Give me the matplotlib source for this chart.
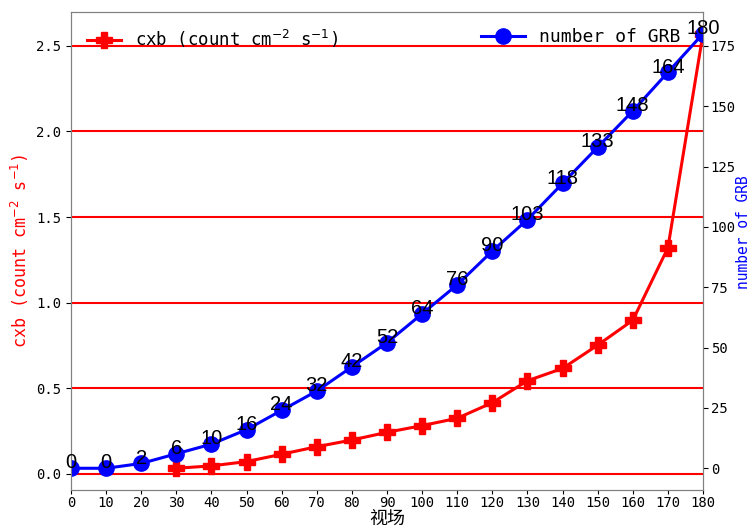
import matplotlib
matplotlib.use('Agg')
import matplotlib.pyplot as plt

plt.rcParams['font.family'] = ['DejaVu Sans Mono', 'Noto Sans CJK SC']
plt.rcParams['axes.unicode_minus'] = False

fov = [0, 10, 20, 30, 40, 50, 60, 70, 80, 90, 100, 110, 120, 130, 140, 150, 160, 170, 180]
grb = [0, 0, 2, 6, 10, 16, 24, 32, 42, 52, 64, 76, 90, 103, 118, 133, 148, 164, 180]
cxb_x = [30, 40, 50, 60, 70, 80, 90, 100, 110, 120, 130, 140, 150, 160, 170, 180]
cxb = [0.033, 0.047, 0.072, 0.115, 0.159, 0.198, 0.243, 0.282, 0.325, 0.416,
       0.544, 0.616, 0.752, 0.897, 1.32, 2.57]

fig = plt.figure(figsize=(7.54, 5.3), dpi=100)
ax1 = fig.add_axes([71/754, 40/530, 632/754, 478/530])
ax2 = ax1.twinx()

ax1.plot(cxb_x, cxb, color='red', marker='P', markersize=11, lw=2.2,
         label=r'cxb (count cm$^{-2}$ s$^{-1}$)')
ax2.plot(fov, grb, color='blue', marker='o', markersize=11, lw=2.2,
         label='number of GRB')
for x, n in zip(fov, grb):
    ax2.annotate(str(n), (x, n), ha='center', va='bottom', fontsize=14.5,
                 xytext=(0, -3), textcoords='offset points',
                 family=['Liberation Sans', 'DejaVu Sans'])

ax1.set_xlim(0, 180)
ax1.set_xticks(fov)
ax1.set_yticks([0, 0.5, 1.0, 1.5, 2.0, 2.5])
ax1.set_yticklabels(['0.0', '0.5', '1.0', '1.5', '2.0', '2.5'])
ax2.set_yticks([0, 25, 50, 75, 100, 125, 150, 175])
ax1.grid(axis='y', color='red', lw=1.5)
ax1.tick_params(labelsize=10)
ax1.tick_params(axis='x', pad=1, length=3)
ax2.tick_params(labelsize=10, pad=2)

ax1.set_xlabel('视场', fontsize=13, family=['Noto Sans CJK SC'])
ax1.xaxis.set_label_coords(0.5, -0.042)
ax1.set_ylabel(r'cxb (count cm$^{-2}$ s$^{-1}$)', color='red', fontsize=12)
ax2.set_ylabel('number of GRB', color='blue', fontsize=10.5)
ax2.yaxis.set_label_coords(1.052, 0.54)

for sp in list(ax1.spines.values()) + list(ax2.spines.values()):
    sp.set_color('gray')

ax1.legend(loc='upper left', frameon=False, fontsize=12.5, bbox_to_anchor=(0.0, 1.0))
ax2.legend(loc='upper right', frameon=False, fontsize=13, bbox_to_anchor=(0.99, 1.0),
           handlelength=2.4)

fig.savefig('out.png', dpi=100)
